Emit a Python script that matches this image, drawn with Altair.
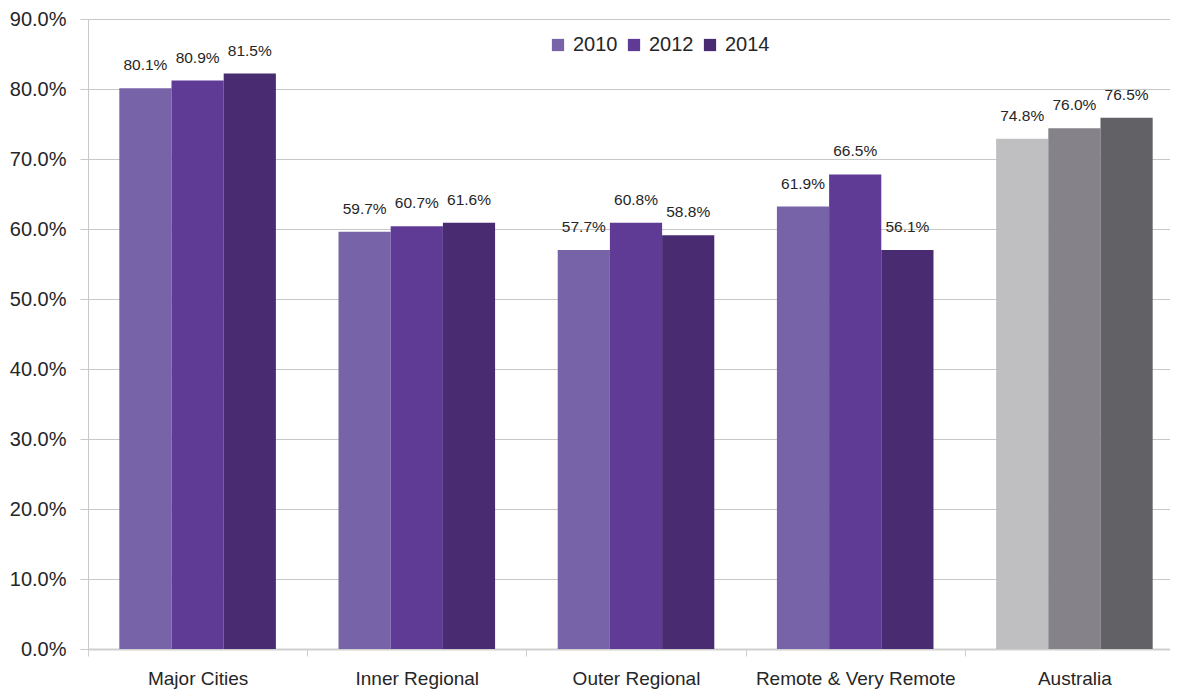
import altair as alt
import pandas as pd

regions = ["Major Cities", "Inner Regional", "Outer Regional", "Remote & Very Remote", "Australia"]
years = ["2010", "2012", "2014"]

# bar heights as drawn (percent)
bar_2010 = [80.1, 59.6, 57.0, 63.2, 72.9]
bar_2012 = [81.2, 60.4, 60.9, 67.8, 74.4]
bar_2014 = [82.2, 60.9, 59.1, 57.0, 75.9]

# data label texts as printed
lab_2010 = ["80.1%", "59.7%", "57.7%", "61.9%", "74.8%"]
lab_2012 = ["80.9%", "60.7%", "60.8%", "66.5%", "76.0%"]
lab_2014 = ["81.5%", "61.6%", "58.8%", "56.1%", "76.5%"]

y_ticks = [0, 10, 20, 30, 40, 50, 60, 70, 80, 90]

color_keys = ["2010", "2012", "2014", "Australia 2010", "Australia 2012", "Australia 2014"]
color_vals = ["#7763a8", "#5f3b96", "#482b71", "#bfbfc1", "#858389", "#626266"]

rows = []
for yr, vals, labs in zip(years, [bar_2010, bar_2012, bar_2014], [lab_2010, lab_2012, lab_2014]):
    for reg, v, l in zip(regions, vals, labs):
        key = ("Australia " + yr) if reg == "Australia" else yr
        rows.append({"region": reg, "year": yr, "value": v, "label": l, "key": key})
df = pd.DataFrame(rows)

FONT = "Liberation Sans"

x_enc = alt.X(
    "region:N",
    sort=regions,
    title=None,
    scale=alt.Scale(paddingInner=0, paddingOuter=0, range=[0, 1096]),
    axis=alt.Axis(
        labelAngle=0,
        labelFontSize=19,
        labelColor="#262626",
        labelFont=FONT,
        labelPadding=13,
        labelLimit=400,
        tickBand="extent",
        tickSize=7,
        tickColor="#cfcfcf",
        domainColor="#cfcfcf",
        domainWidth=2,
        grid=False,
    ),
)
xoff = alt.XOffset("year:N", sort=years, scale=alt.Scale(paddingOuter=0.6, paddingInner=0))
y_enc = alt.Y(
    "value:Q",
    title=None,
    scale=alt.Scale(domain=[0, 90], nice=False),
    axis=alt.Axis(
        values=y_ticks,
        labelExpr="format(datum.value, '.1f') + '%'",
        labelFontSize=20,
        labelColor="#262626",
        labelFont=FONT,
        labelPadding=14,
        tickSize=8,
        tickColor="#c8c8c8",
        domainColor="#c8c8c8",
        gridColor="#c8c8c8",
        grid=True,
    ),
)

bars = alt.Chart(df).mark_bar().encode(
    x=x_enc,
    xOffset=xoff,
    y=y_enc,
    color=alt.Color(
        "key:N",
        scale=alt.Scale(domain=color_keys, range=color_vals),
        legend=alt.Legend(
            values=years,
            title=None,
            orient="none",
            direction="horizontal",
            legendX=460,
            legendY=16,
            symbolType="square",
            symbolSize=150,
            symbolStrokeWidth=0,
            labelFontSize=20,
            labelFont=FONT,
            labelColor="#262626",
            labelOffset=5,
            columnPadding=6,
            padding=0,
        ),
    ),
)

texts = alt.Chart(df).mark_text(
    dy=-23, baseline="middle", align="center", fontSize=15.5, font=FONT, color="#262626"
).encode(
    x=alt.X("region:N", sort=regions),
    xOffset=alt.XOffset("year:N", sort=years),
    y="value:Q",
    text="label:N",
)

chart = (
    alt.layer(bars, texts)
    .properties(
        width=1082,
        height=630,
        autosize=alt.AutoSizeParams(type="none"),
        padding={"left": 80, "top": 11, "right": 0, "bottom": 44},
    )
    .configure_view(stroke=None)
)

chart.save("out.html", embed_options={"renderer": "svg", "actions": False})
